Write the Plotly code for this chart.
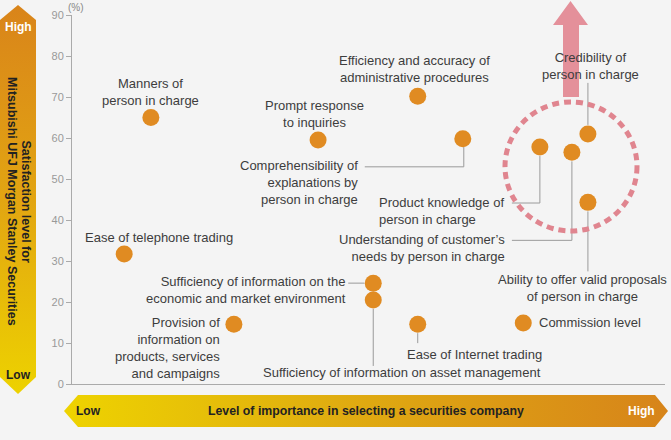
import plotly.graph_objects as go

# ---------------- data ----------------
items = [
    "Manners of<br>person in charge",
    "Prompt response<br>to inquiries",
    "Efficiency and accuracy of<br>administrative procedures",
    "Comprehensibility of<br>explanations by<br>person in charge",
    "Product knowledge of<br>person in charge",
    "Credibility of<br>person in charge",
    "Understanding of customer’s<br>needs by person in charge",
    "Ability to offer valid proposals<br>of person in charge",
    "Ease of telephone trading",
    "Sufficiency of information on the<br>economic and market environment",
    "Sufficiency of information on asset management",
    "Provision of<br>information on<br>products, services<br>and campaigns",
    "Ease of Internet trading",
    "Commission level",
]
importance = [13.3, 41.5, 58.3, 65.9, 78.9, 87.0, 84.3, 87.0, 8.8, 50.8, 50.8, 27.3, 58.3, 76.1]
satisfaction = [65.0, 59.5, 70.2, 59.8, 57.8, 61.0, 56.5, 44.3, 31.7, 24.6, 20.5, 14.6, 14.6, 14.9]
y_ticks = [0, 10, 20, 30, 40, 50, 60, 70, 80, 90]

# ---------------- label placement (pixel offsets from each dot; down = positive) ----------------
# (dx, dy, xanchor, align)
label_pos = [
    (0, -25, "center", "center"),
    (-4, -26.5, "center", "center"),
    (-3, -27, "center", "center"),
    (-103, 44, "right", "right"),
    (-34, 64, "right", "left"),
    (3, -68, "center", "center"),
    (-65, 96, "right", "right"),
    (-5, 85.5, "center", "center"),
    (35, -17, "center", "center"),
    (-25, 7, "right", "right"),
    (28.5, 73, "center", "center"),
    (-12, 24, "right", "right"),
    (56.5, 30, "center", "center"),
    (14, 0, "left", "left"),
]
# leader line segments per item, in pixel offsets from dot (dx0, dy0, dx1, dy1), down = positive
leaders = {
    3: [(-98, 28, 1, 28), (1, 28, 1, 8)],
    4: [(-28, 56, 0, 56), (0, 56, 0, 9)],
    5: [(0, -51, 0, -9)],
    6: [(-60, 88, 0, 88), (0, 88, 0, 9)],
    7: [(0, 9, 0, 69)],
    9: [(-25, 0, -9, 0)],
    10: [(0, 9, 0, 66)],
    12: [(0, 9, 0, 19)],
}

W, H = 671, 440
BG = "#f4f4f4"
DOT = "#e08b22"
TXT = "#3d3d3d"
FONT = "Liberation Sans, Arial, sans-serif"

fig = go.Figure()

# decorative arrows in a full-page pixel overlay (x2/y2)
fig.add_trace(go.Scatter(
    x=[0, 18, 36, 36, 18, 0, 0], y=[20, 5, 20, 377, 394, 377, 20],
    mode="lines", line=dict(width=0), fill="toself",
    fillgradient=dict(type="vertical", start=5, stop=394,
                      colorscale=[[0, "#d9841a"], [0.5, "#e2a512"], [1, "#edd200"]]),
    xaxis="x2", yaxis="y2", hoverinfo="skip", showlegend=False))
fig.add_trace(go.Scatter(
    x=[64, 78, 655, 668, 655, 78, 64], y=[411, 395, 395, 411, 427, 427, 411],
    mode="lines", line=dict(width=0), fill="toself",
    fillgradient=dict(type="horizontal", start=64, stop=668,
                      colorscale=[[0, "#eed300"], [0.45, "#e0ad10"], [1, "#d7841a"]]),
    xaxis="x2", yaxis="y2", hoverinfo="skip", showlegend=False))
fig.add_trace(go.Scatter(
    x=[563, 563, 553, 570.5, 588, 579, 579, 563], y=[97, 25, 25, 1, 25, 25, 97, 97],
    mode="lines", line=dict(width=0), fill="toself", fillcolor="#e4909a",
    xaxis="x2", yaxis="y2", hoverinfo="skip", showlegend=False))

# data points
fig.add_trace(go.Scatter(
    x=importance, y=satisfaction, mode="markers",
    marker=dict(size=17, color=DOT, line=dict(width=0)),
    text=[t.replace("<br>", " ") for t in items], hoverinfo="text",
    xaxis="x", yaxis="y", showlegend=False, cliponaxis=False))

shapes = []
# dashed circle
shapes.append(dict(type="circle", xref="x2", yref="y2", x0=505, x1=637, y0=102, y1=231,
                   line=dict(color="#e0858f", width=5, dash="7px,5px")))
for i, segs in leaders.items():
    for dx0, dy0, dx1, dy1 in segs:
        shapes.append(dict(type="line", xref="x", yref="y",
                           xsizemode="pixel", ysizemode="pixel",
                           xanchor=importance[i], yanchor=satisfaction[i],
                           x0=dx0, x1=dx1, y0=-dy0, y1=-dy1,
                           line=dict(color="#9a9a9a", width=1), layer="below"))

annotations = []
for i, (dx, dy, xa, al) in enumerate(label_pos):
    annotations.append(dict(x=importance[i], y=satisfaction[i], xref="x", yref="y",
                            text=items[i], showarrow=False, xanchor=xa, yanchor="middle",
                            align=al, xshift=dx, yshift=-dy,
                            font=dict(family=FONT, size=13, color=TXT)))

def ptxt(x, y, text, size=12, color="#222", bold=True, angle=0):
    annotations.append(dict(x=x, y=y, xref="x2", yref="y2", showarrow=False,
                            text=f"<b>{text}</b>" if bold else text,
                            textangle=angle, xanchor="center", yanchor="middle",
                            font=dict(family=FONT, size=size, color=color)))

ptxt(76, 7, "(%)", size=10, color="#888", bold=False)
ptxt(18, 27, "High", color="#ffffff")
ptxt(18, 375, "Low", color="#222")
ptxt(26, 201.5, "Satisfaction level for", size=12.5, angle=90)
ptxt(12.5, 201.5, "Mitsubishi UFJ Morgan Stanley Securities", size=12.5, angle=90)
ptxt(88, 411, "Low", color="#222")
ptxt(641, 411, "High", color="#ffffff")
ptxt(366, 411, "Level of importance in selecting a securities company", size=12.3, color="#222")

fig.update_layout(
    width=W, height=H, margin=dict(l=0, r=0, t=0, b=0, pad=0, autoexpand=False),
    paper_bgcolor=BG, plot_bgcolor="rgba(0,0,0,0)",
    showlegend=False, shapes=shapes, annotations=annotations,
    font=dict(family=FONT, color=TXT),
    xaxis=dict(domain=[72 / W, 665 / W], range=[0, 100], anchor="y", automargin=False,
               showgrid=False, zeroline=False, showticklabels=False, ticks="",
               showline=True, linecolor="#aaaaaa", linewidth=1, fixedrange=True),
    yaxis=dict(domain=[(H - 384) / H, (H - 15) / H], range=[0, 90], anchor="x", automargin=False,
               tickvals=y_ticks, ticks="outside", ticklen=5, tickcolor="#aaaaaa",
               tickfont=dict(family=FONT, size=11, color="#999999"),
               showgrid=False, zeroline=False, showline=True,
               linecolor="#aaaaaa", linewidth=1, fixedrange=True),
    xaxis2=dict(domain=[0, 1], range=[0, W], anchor="y2", visible=False, fixedrange=True,
                automargin=False),
    yaxis2=dict(domain=[0, 1], range=[H, 0], anchor="x2", visible=False, fixedrange=True,
                automargin=False),
)

fig.write_html("out.html", config={"displayModeBar": False},
               post_script="document.body.style.margin='0px';document.body.style.overflow='hidden';")
